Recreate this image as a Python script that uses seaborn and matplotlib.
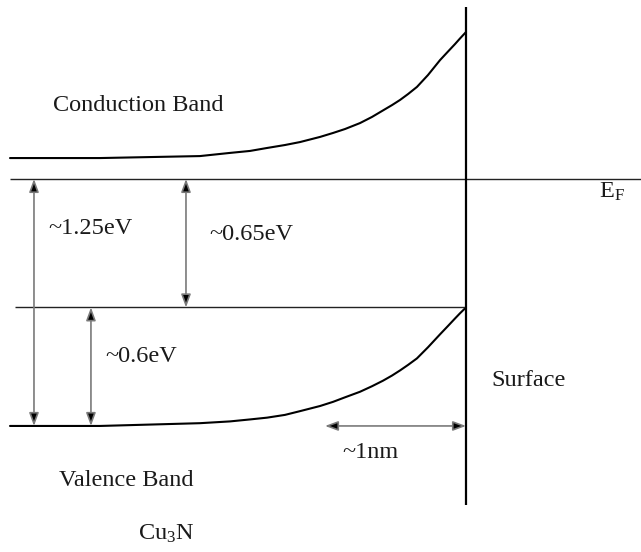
import matplotlib
matplotlib.use("Agg")
import matplotlib.pyplot as plt
import pandas as pd
import seaborn as sns

# Distance from the surface (nm, negative = into the bulk) and band-edge energies (eV, relative to E_F)
depth_nm = [-3.234, -2.596, -1.887, -1.674, -1.532, -1.411, -1.284, -1.177, -1.035, -0.943,
            -0.858, -0.752, -0.667, -0.589, -0.525, -0.468, -0.411, -0.348, -0.270, -0.184,
            -0.128, -0.078, -0.043, 0.0]
cb_energy = [0.106, 0.106, 0.116, 0.132, 0.142, 0.157, 0.172, 0.187, 0.213, 0.233,
             0.253, 0.283, 0.314, 0.347, 0.374, 0.400, 0.430, 0.466, 0.526, 0.602,
             0.645, 0.683, 0.711, 0.744]
vb_energy = [-1.25, -1.25, -1.236, -1.227, -1.217, -1.208, -1.194, -1.175, -1.149, -1.128,
             -1.105, -1.077, -1.049, -1.021, -0.995, -0.969, -0.941, -0.908, -0.852, -0.786,
             -0.744, -0.706, -0.680, -0.65]

# Reference levels (eV)
fermi_level = 0.0
vb_surface = -0.65
vb_bulk = -1.25

# Dimension arrows: (value, label)
gap_total = (1.25, "~1.25eV")
gap_surface = (0.65, "~0.65eV")
band_bending = (0.6, "~0.6eV")
depletion_width = (1.0, "~1nm")

W, H = 641, 552
sns.set_theme(style="white")
plt.rcParams["font.family"] = ["Liberation Serif", "DejaVu Serif"]
plt.rcParams["mathtext.fontset"] = "custom"
plt.rcParams["mathtext.rm"] = "Liberation Serif"
plt.rcParams["mathtext.it"] = "Liberation Serif:italic"

fig = plt.figure(figsize=(W / 100, H / 100), dpi=100)
ax = fig.add_axes([0, 0, 1, 1])
ax.set_xlim(-3.305, 1.241)
ax.set_ylim(-1.888, 0.906)
ax.axis("off")

bands = pd.DataFrame({"depth": depth_nm, "cb": cb_energy, "vb": vb_energy})
line_kw = dict(color="black", lw=1.5, sort=False, solid_joinstyle="round")
sns.lineplot(data=bands, x="depth", y="cb", ax=ax, **line_kw)
sns.lineplot(data=bands, x="depth", y="vb", ax=ax, **line_kw)

x_left = depth_nm[0]
ax.hlines(fermi_level, x_left, 1.241, color="#222222", lw=1.0)
ax.hlines(vb_surface, -3.20, 0.0, color="#222222", lw=1.0)
ax.vlines(0.0, -1.65, 0.87, color="black", lw=1.6)

arrow_kw = dict(arrowstyle="<|-|>,head_length=0.65,head_width=0.24",
                edgecolor="#7a7a7a", facecolor="black", lw=1.2,
                shrinkA=0, shrinkB=0)


def vertical_arrow(x, top, span):
    ax.annotate("", xy=(x, top - span), xytext=(x, top), arrowprops=arrow_kw)


vertical_arrow(-3.064, fermi_level, gap_total[0])
vertical_arrow(-1.986, fermi_level, gap_surface[0])
vertical_arrow(-2.660, vb_surface, band_bending[0])
ax.annotate("", xy=(-depletion_width[0], vb_bulk), xytext=(0.0, vb_bulk),
            arrowprops=arrow_kw)

fs = 17.5
tkw = dict(transform=ax.transAxes, fontsize=fs, color="#1a1a1a", va="center")


def px_text(px, py, s, **kw):
    ax.text(px / W, 1 - py / H, s, **{**tkw, **kw})


px_text(53, 105, "Conduction Band")
px_text(48, 229, gap_total[1])
px_text(209, 234, gap_surface[1])
px_text(105, 357, band_bending[1])
px_text(491, 381, "Surface")
px_text(342, 452, depletion_width[1])
px_text(59, 480, "Valence Band")
px_text(138, 534, r"Cu$_\mathregular{3}$N")
px_text(599, 192, r"E$_\mathregular{F}$")

fig.savefig("out.png", dpi=100, facecolor="white")
